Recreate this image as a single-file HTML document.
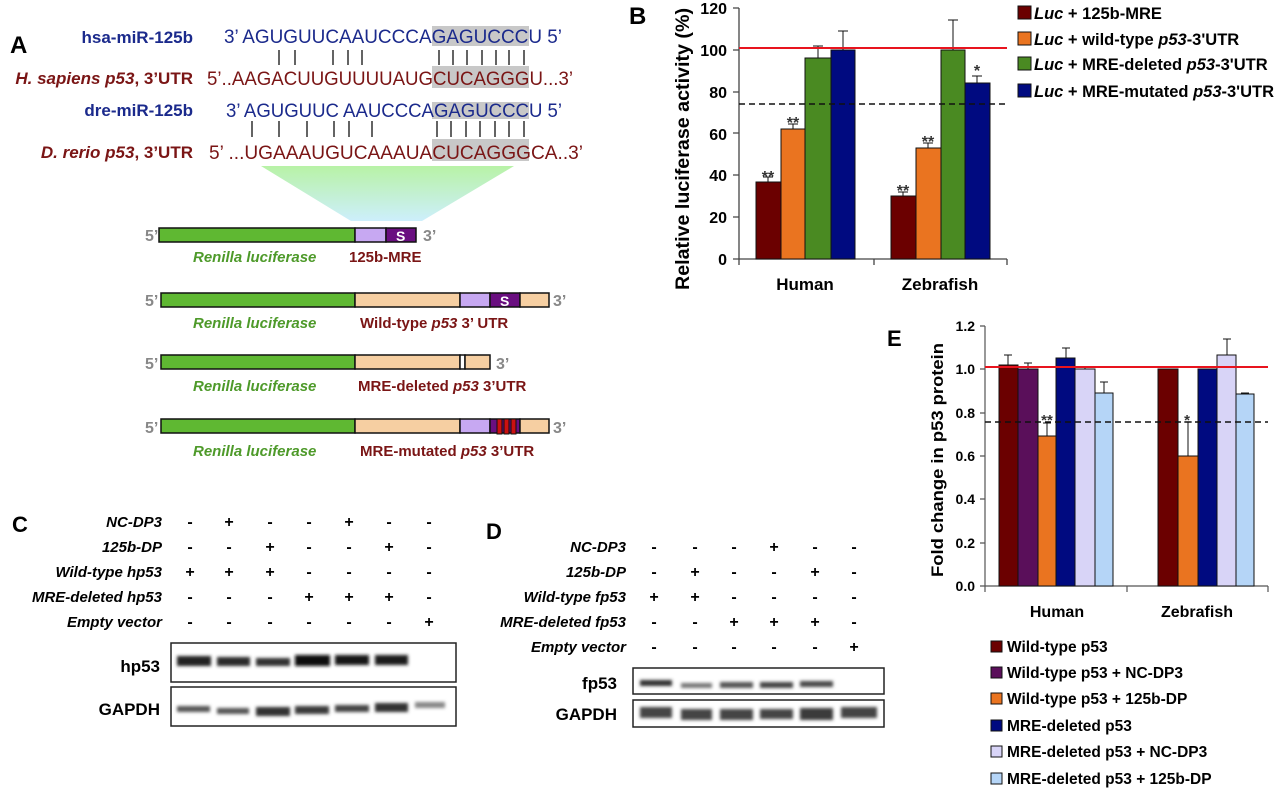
<!DOCTYPE html>
<html><head><meta charset="utf-8"><style>
html,body{margin:0;padding:0;background:#fff;}
svg{display:block;font-family:"Liberation Sans",Arial,sans-serif;}
</style></head><body>
<svg width="1280" height="791" viewBox="0 0 1280 791" xmlns="http://www.w3.org/2000/svg">
<defs>
<linearGradient id="tg" x1="0" y1="0" x2="0" y2="1"><stop offset="0" stop-color="#b8f2a6"/><stop offset="1" stop-color="#cdeffc"/></linearGradient>
<filter id="bl" x="-20%" y="-100%" width="140%" height="300%"><feGaussianBlur stdDeviation="1.6"/></filter>
</defs>

<!-- ===== Panel A ===== -->
<text x="10" y="53" font-size="24" font-weight="bold">A</text>
<g font-size="17" font-weight="bold" text-anchor="end">
<text x="193" y="43" fill="#1b2a8c">hsa-miR-125b</text>
<text x="193" y="84" fill="#7a1515" font-style="italic">H. sapiens p53<tspan font-style="normal">, 3’UTR</tspan></text>
<text x="193" y="116" fill="#1b2a8c">dre-miR-125b</text>
<text x="193" y="158" fill="#7a1515" font-style="italic">D. rerio p53<tspan font-style="normal">, 3’UTR</tspan></text>
</g>
<g fill="#c8c8c8">
<rect x="432" y="26" width="97" height="20"/>
<rect x="432" y="66" width="97" height="22"/>
<rect x="432" y="102" width="97" height="17"/>
<rect x="432" y="139" width="97" height="22"/>
</g>
<g font-size="19">
<text x="224" y="43" fill="#1b2a8c" textLength="338" lengthAdjust="spacingAndGlyphs">3’ AGUGUUCAAUCCCAGAGUCCCU 5’</text>
<text x="207" y="85" fill="#7a1515" textLength="366" lengthAdjust="spacingAndGlyphs">5’..AAGACUUGUUUUAUGCUCAGGGU...3’</text>
<text x="226" y="117" fill="#1b2a8c" textLength="336" lengthAdjust="spacingAndGlyphs">3’ AGUGUUC AAUCCCAGAGUCCCU 5’</text>
<text x="209" y="159" fill="#7a1515" textLength="374" lengthAdjust="spacingAndGlyphs">5’ ...UGAAAUGUCAAAUACUCAGGGCA..3’</text>
</g>
<g stroke="#111" stroke-width="1.3">
<path d="M279 50V65M295 50V65M333 50V65M348 50V65M362 50V65M439 50V65M453 50V65M467 50V65M482 50V65M496 50V65M509 50V65M524 50V65"/>
<path d="M252 121V137M279 121V137M307 121V137M334 121V137M349 121V137M372 121V137M437 121V137M451 121V137M466 121V137M480 121V137M495 121V137M509 121V137M524 121V137"/>
</g>
<polygon points="261,166 514,166 422,221 351,221" fill="url(#tg)"/>

<g font-size="16" fill="#888" font-weight="bold">
<text x="145" y="241">5’</text><text x="423" y="241">3’</text>
<text x="145" y="306">5’</text><text x="553" y="306">3’</text>
<text x="145" y="369">5’</text><text x="496" y="369">3’</text>
<text x="145" y="433">5’</text><text x="553" y="433">3’</text>
</g>
<g stroke="#111" stroke-width="1.5">
<rect x="159" y="228" width="196" height="14" fill="#5fb832"/>
<rect x="355" y="228" width="31" height="14" fill="#c7a8f2"/>
<rect x="386" y="228" width="30" height="14" fill="#6a0f80"/>
<rect x="161" y="293" width="194" height="14" fill="#5fb832"/>
<rect x="355" y="293" width="105" height="14" fill="#f6cfa2"/>
<rect x="460" y="293" width="30" height="14" fill="#c7a8f2"/>
<rect x="490" y="293" width="30" height="14" fill="#6a0f80"/>
<rect x="520" y="293" width="29" height="14" fill="#f6cfa2"/>
<rect x="161" y="355" width="194" height="14" fill="#5fb832"/>
<rect x="355" y="355" width="105" height="14" fill="#f6cfa2"/>
<rect x="460" y="355" width="5" height="14" fill="#fff"/>
<rect x="465" y="355" width="25" height="14" fill="#f6cfa2"/>
<rect x="161" y="419" width="194" height="14" fill="#5fb832"/>
<rect x="355" y="419" width="105" height="14" fill="#f6cfa2"/>
<rect x="460" y="419" width="30" height="14" fill="#c7a8f2"/>
<rect x="490" y="419" width="30" height="14" fill="#6a0f80"/>
<rect x="520" y="419" width="29" height="14" fill="#f6cfa2"/>
<rect x="497" y="419" width="5" height="15" fill="#cc1010" stroke-width="1"/>
<rect x="504" y="419" width="5" height="15" fill="#cc1010" stroke-width="1"/>
<rect x="511" y="419" width="5" height="15" fill="#cc1010" stroke-width="1"/>
</g>
<g font-size="14" font-weight="bold" fill="#fff"><text x="396" y="241">S</text><text x="500" y="306">S</text></g>
<g font-size="15" font-weight="bold">
<g fill="#4e9a2a" font-style="italic">
<text x="193" y="262">Renilla luciferase</text>
<text x="193" y="328">Renilla luciferase</text>
<text x="193" y="391">Renilla luciferase</text>
<text x="193" y="456">Renilla luciferase</text>
</g>
<g fill="#7a1515">
<text x="349" y="262">125b-MRE</text>
<text x="360" y="328">Wild-type <tspan font-style="italic">p53</tspan> 3’ UTR</text>
<text x="358" y="391">MRE-deleted <tspan font-style="italic">p53</tspan> 3’UTR</text>
<text x="360" y="456">MRE-mutated <tspan font-style="italic">p53</tspan> 3’UTR</text>
</g>
</g>

<!-- ===== Panel B ===== -->
<text x="629" y="24" font-size="24" font-weight="bold">B</text>
<text transform="translate(689,149) rotate(-90)" text-anchor="middle" font-size="19" font-weight="bold" textLength="282" lengthAdjust="spacingAndGlyphs">Relative luciferase activity (%)</text>
<g font-size="16" font-weight="bold" text-anchor="end">
<text x="727" y="265">0</text><text x="727" y="223">20</text><text x="727" y="181">40</text>
<text x="727" y="140">60</text><text x="727" y="98">80</text><text x="727" y="56">100</text><text x="727" y="14">120</text>
</g>
<g stroke="#444" stroke-width="1.3" fill="none">
<path d="M739 8V259H1007M733 259H739M733 217H739M733 175H739M733 133H739M733 92H739M733 50H739M733 8H739M874 259V265M1007 259V265M739 259V265"/>
</g>
<g stroke="#111" stroke-width="1">
<rect x="756" y="182" width="25" height="77" fill="#6b0000"/>
<rect x="781" y="129" width="24" height="130" fill="#ea7420"/>
<rect x="805" y="58" width="26" height="201" fill="#4a8a22"/>
<rect x="831" y="50" width="24" height="209" fill="#000a80"/>
<rect x="891" y="196" width="25" height="63" fill="#6b0000"/>
<rect x="916" y="148" width="25" height="111" fill="#ea7420"/>
<rect x="941" y="50" width="24" height="209" fill="#4a8a22"/>
<rect x="965" y="83" width="25" height="176" fill="#000a80"/>
<path d="M768 182V177M763 177H773M793 129V124M788 124H798M818 58V46M813 46H823M843 50V31M838 31H848M903 196V192M898 192H908M928 148V143M923 143H933M953 50V20M948 20H958M977 83V76M972 76H982" fill="none"/>
</g>
<line x1="739" y1="48" x2="1007" y2="48" stroke="#e8141e" stroke-width="2"/>
<line x1="739" y1="104" x2="1007" y2="104" stroke="#111" stroke-width="1.5" stroke-dasharray="6,4"/>
<g font-size="16" font-weight="bold" fill="#333" text-anchor="middle">
<text x="768" y="182">**</text><text x="793" y="128">**</text><text x="903" y="196">**</text><text x="928" y="147">**</text><text x="977" y="76">*</text>
</g>
<g font-size="17" font-weight="bold" text-anchor="middle">
<text x="805" y="290">Human</text><text x="940" y="290">Zebrafish</text>
</g>
<g stroke="#111" stroke-width="1">
<rect x="1018" y="6" width="13" height="13" fill="#6b0000"/>
<rect x="1018" y="32" width="13" height="13" fill="#ea7420"/>
<rect x="1018" y="57" width="13" height="13" fill="#4a8a22"/>
<rect x="1018" y="84" width="13" height="13" fill="#000a80"/>
</g>
<g font-size="16.5" font-weight="bold">
<text x="1034" y="19"><tspan font-style="italic">Luc</tspan> + 125b-MRE</text>
<text x="1034" y="45"><tspan font-style="italic">Luc</tspan> + wild-type <tspan font-style="italic">p53</tspan>-3'UTR</text>
<text x="1034" y="70"><tspan font-style="italic">Luc</tspan> + MRE-deleted <tspan font-style="italic">p53</tspan>-3'UTR</text>
<text x="1034" y="97"><tspan font-style="italic">Luc</tspan> + MRE-mutated <tspan font-style="italic">p53</tspan>-3'UTR</text>
</g>

<!-- ===== Panel C ===== -->
<text x="12" y="532" font-size="22" font-weight="bold">C</text>
<g font-size="15" font-weight="bold" font-style="italic" text-anchor="end">
<text x="162" y="527">NC-DP3</text><text x="162" y="552">125b-DP</text>
<text x="162" y="577">Wild-type hp53</text><text x="162" y="602">MRE-deleted hp53</text><text x="162" y="627">Empty vector</text>
</g>
<g font-size="16" font-weight="bold" text-anchor="middle">
<text x="190" y="527">-</text><text x="229" y="527">+</text><text x="270" y="527">-</text><text x="309" y="527">-</text><text x="349" y="527">+</text><text x="389" y="527">-</text><text x="429" y="527">-</text>
<text x="190" y="552">-</text><text x="229" y="552">-</text><text x="270" y="552">+</text><text x="309" y="552">-</text><text x="349" y="552">-</text><text x="389" y="552">+</text><text x="429" y="552">-</text>
<text x="190" y="577">+</text><text x="229" y="577">+</text><text x="270" y="577">+</text><text x="309" y="577">-</text><text x="349" y="577">-</text><text x="389" y="577">-</text><text x="429" y="577">-</text>
<text x="190" y="602">-</text><text x="229" y="602">-</text><text x="270" y="602">-</text><text x="309" y="602">+</text><text x="349" y="602">+</text><text x="389" y="602">+</text><text x="429" y="602">-</text>
<text x="190" y="627">-</text><text x="229" y="627">-</text><text x="270" y="627">-</text><text x="309" y="627">-</text><text x="349" y="627">-</text><text x="389" y="627">-</text><text x="429" y="627">+</text>
</g>
<rect x="171" y="643" width="285" height="39" fill="#fff" stroke="#222" stroke-width="1.5"/>
<rect x="171" y="687" width="285" height="39" fill="#fff" stroke="#222" stroke-width="1.5"/>
<g filter="url(#bl)">
<rect x="177" y="656" width="34" height="10" fill="#222"/>
<rect x="217" y="657" width="33" height="9" fill="#2a2a2a"/>
<rect x="256" y="658" width="34" height="8" fill="#333"/>
<rect x="295" y="655" width="35" height="11" fill="#111"/>
<rect x="335" y="655" width="34" height="10" fill="#151515"/>
<rect x="375" y="655" width="33" height="10" fill="#1a1a1a"/>
<rect x="177" y="706" width="33" height="6" fill="#555"/>
<rect x="217" y="708" width="32" height="6" fill="#555"/>
<rect x="256" y="707" width="34" height="9" fill="#333"/>
<rect x="295" y="706" width="34" height="8" fill="#3a3a3a"/>
<rect x="335" y="705" width="34" height="7" fill="#444"/>
<rect x="375" y="703" width="33" height="9" fill="#333"/>
<rect x="415" y="702" width="30" height="6" fill="#888"/>
</g>
<g font-size="17" font-weight="bold" text-anchor="end">
<text x="160" y="672">hp53</text><text x="160" y="715">GAPDH</text>
</g>

<!-- ===== Panel D ===== -->
<text x="486" y="539" font-size="22" font-weight="bold">D</text>
<g font-size="15" font-weight="bold" font-style="italic" text-anchor="end">
<text x="626" y="552">NC-DP3</text><text x="626" y="577">125b-DP</text>
<text x="626" y="602">Wild-type fp53</text><text x="626" y="627">MRE-deleted fp53</text><text x="626" y="652">Empty vector</text>
</g>
<g font-size="16" font-weight="bold" text-anchor="middle">
<text x="654" y="552">-</text><text x="695" y="552">-</text><text x="734" y="552">-</text><text x="774" y="552">+</text><text x="815" y="552">-</text><text x="854" y="552">-</text>
<text x="654" y="577">-</text><text x="695" y="577">+</text><text x="734" y="577">-</text><text x="774" y="577">-</text><text x="815" y="577">+</text><text x="854" y="577">-</text>
<text x="654" y="602">+</text><text x="695" y="602">+</text><text x="734" y="602">-</text><text x="774" y="602">-</text><text x="815" y="602">-</text><text x="854" y="602">-</text>
<text x="654" y="627">-</text><text x="695" y="627">-</text><text x="734" y="627">+</text><text x="774" y="627">+</text><text x="815" y="627">+</text><text x="854" y="627">-</text>
<text x="654" y="652">-</text><text x="695" y="652">-</text><text x="734" y="652">-</text><text x="774" y="652">-</text><text x="815" y="652">-</text><text x="854" y="652">+</text>
</g>
<rect x="633" y="668" width="251" height="26" fill="#fff" stroke="#222" stroke-width="1.5"/>
<rect x="633" y="700" width="251" height="27" fill="#fff" stroke="#222" stroke-width="1.5"/>
<g filter="url(#bl)">
<rect x="640" y="680" width="32" height="6" fill="#333"/>
<rect x="681" y="683" width="31" height="5" fill="#777"/>
<rect x="720" y="682" width="33" height="6" fill="#555"/>
<rect x="760" y="682" width="33" height="6" fill="#444"/>
<rect x="800" y="681" width="33" height="6" fill="#4a4a4a"/>
<rect x="640" y="707" width="32" height="11" fill="#444"/>
<rect x="681" y="709" width="31" height="11" fill="#444"/>
<rect x="720" y="709" width="33" height="11" fill="#444"/>
<rect x="760" y="709" width="33" height="10" fill="#444"/>
<rect x="800" y="708" width="33" height="12" fill="#3a3a3a"/>
<rect x="841" y="707" width="36" height="11" fill="#444"/>
</g>
<g font-size="17" font-weight="bold" text-anchor="end">
<text x="617" y="689">fp53</text><text x="617" y="720">GAPDH</text>
</g>

<!-- ===== Panel E ===== -->
<text x="887" y="346" font-size="22" font-weight="bold">E</text>
<text transform="translate(943,460) rotate(-90)" text-anchor="middle" font-size="17" font-weight="bold" textLength="234" lengthAdjust="spacingAndGlyphs">Fold change in p53 protein</text>
<g font-size="14" font-weight="bold" text-anchor="end">
<text x="975" y="591">0.0</text><text x="975" y="548">0.2</text><text x="975" y="504">0.4</text>
<text x="975" y="461">0.6</text><text x="975" y="418">0.8</text><text x="975" y="374">1.0</text><text x="975" y="331">1.2</text>
</g>
<g stroke="#555" stroke-width="1.2" fill="none">
<path d="M985 326V586H1268M980 586H985M980 543H985M980 499H985M980 456H985M980 413H985M980 369H985M980 326H985M1127 586V592M1268 586V592M985 586V592"/>
</g>
<g stroke="#111" stroke-width="1">
<rect x="999" y="365" width="19" height="221" fill="#6b0000"/>
<rect x="1018" y="369" width="20" height="217" fill="#5a0f5a"/>
<rect x="1038" y="436" width="18" height="150" fill="#ea7420"/>
<rect x="1056" y="358" width="19" height="228" fill="#000a80"/>
<rect x="1075" y="369" width="20" height="217" fill="#d8d4f7"/>
<rect x="1095" y="393" width="18" height="193" fill="#b5d5f7"/>
<rect x="1158" y="369" width="20" height="217" fill="#6b0000"/>
<rect x="1178" y="456" width="20" height="130" fill="#ea7420"/>
<rect x="1198" y="369" width="19" height="217" fill="#000a80"/>
<rect x="1217" y="355" width="19" height="231" fill="#d8d4f7"/>
<rect x="1236" y="394" width="18" height="192" fill="#b5d5f7"/>
<path d="M1008 365V355M1004 355H1012M1028 369V363M1024 363H1032M1047 436V423M1043 423H1051M1066 358V348M1062 348H1070M1085 369V367M1081 367H1089M1104 393V382M1100 382H1108M1188 456V422M1184 422H1192M1227 355V339M1223 339H1231M1245 394V393M1241 393H1249" fill="none"/>
</g>
<line x1="985" y1="367" x2="1268" y2="367" stroke="#e8141e" stroke-width="2"/>
<line x1="985" y1="422" x2="1268" y2="422" stroke="#111" stroke-width="1.5" stroke-dasharray="6,4"/>
<g font-size="15" font-weight="bold" fill="#333" text-anchor="middle">
<text x="1047" y="425">**</text><text x="1187" y="425">*</text>
</g>
<g font-size="16" font-weight="bold" text-anchor="middle">
<text x="1057" y="617">Human</text><text x="1197" y="617">Zebrafish</text>
</g>
<g stroke="#111" stroke-width="1">
<rect x="991" y="641" width="11" height="11" fill="#6b0000"/>
<rect x="991" y="667" width="11" height="11" fill="#5a0f5a"/>
<rect x="991" y="693" width="11" height="11" fill="#ea7420"/>
<rect x="991" y="720" width="11" height="11" fill="#000a80"/>
<rect x="991" y="746" width="11" height="11" fill="#d8d4f7"/>
<rect x="991" y="773" width="11" height="11" fill="#b5d5f7"/>
</g>
<g font-size="15.5" font-weight="bold">
<text x="1007" y="652">Wild-type p53</text>
<text x="1007" y="678">Wild-type p53 + NC-DP3</text>
<text x="1007" y="704">Wild-type p53 + 125b-DP</text>
<text x="1007" y="731">MRE-deleted p53</text>
<text x="1007" y="757">MRE-deleted p53 + NC-DP3</text>
<text x="1007" y="784">MRE-deleted p53 + 125b-DP</text>
</g>
</svg>
</body></html>
